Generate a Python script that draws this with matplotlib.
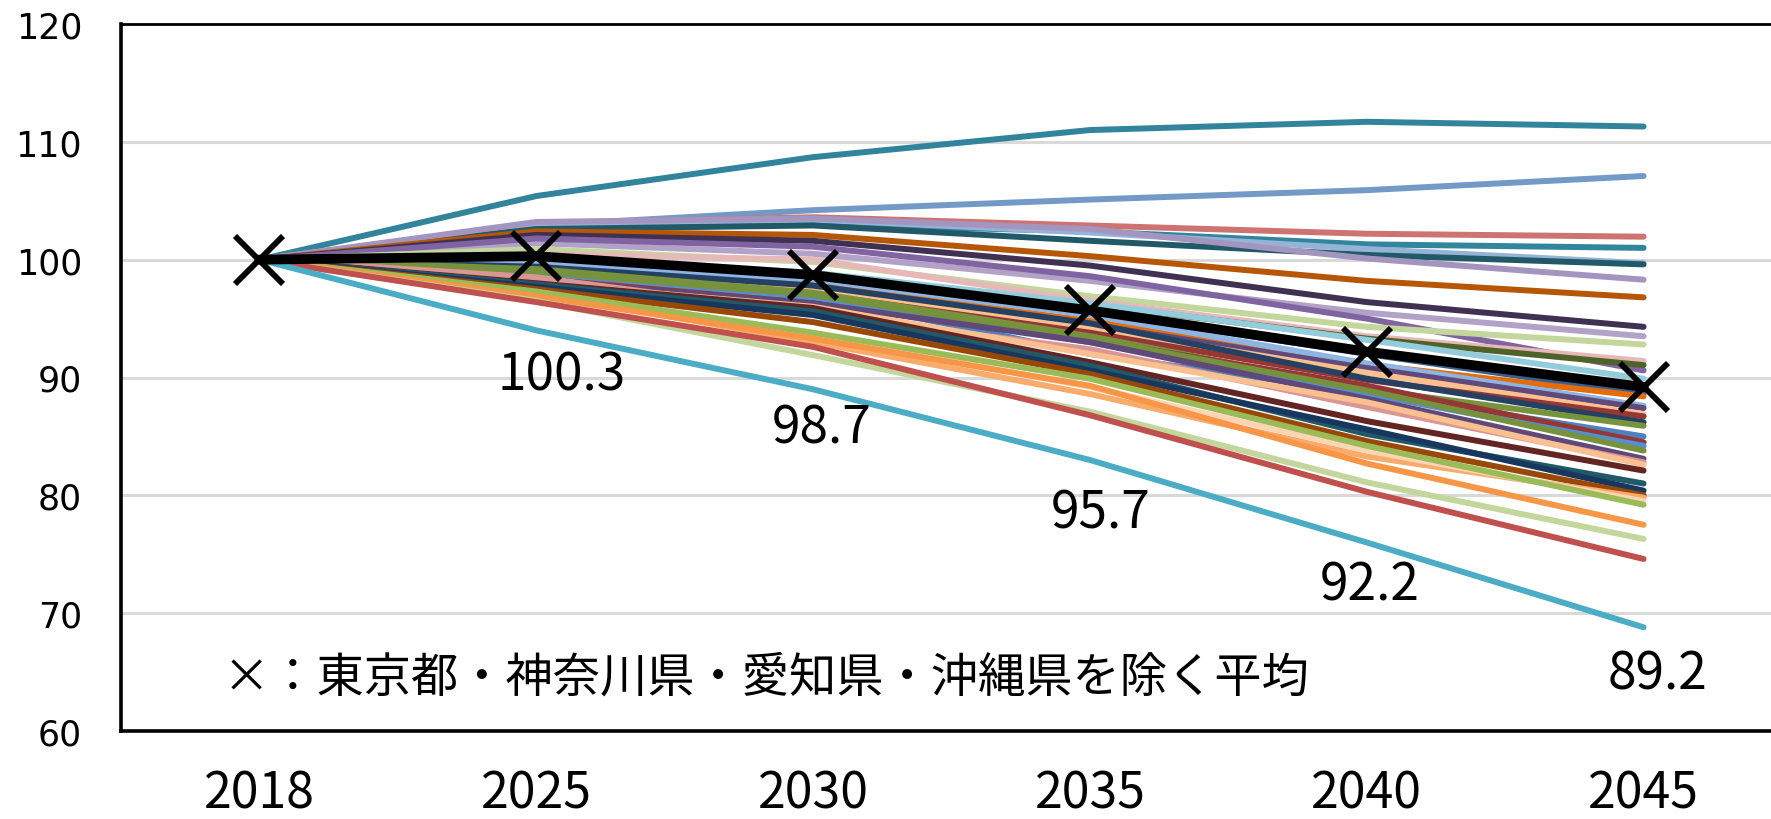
import numpy as np
import matplotlib
matplotlib.use("Agg")
import matplotlib.pyplot as plt

# Index (2018 = 100) by prefecture
years = ["2018", "2025", "2030", "2035", "2040", "2045"]
avg = [100, 100.3, 98.7, 95.7, 92.2, 89.2]

# values for 2025, 2030, 2035, 2040, 2045 (2018 is always 100)
pref_values = [
    [105.4, 108.7, 111.0, 111.7, 111.3],
    [102.9, 104.2, 105.1, 105.9, 107.1],
    [103.1, 103.6, 102.9, 102.2, 101.95],
    [102.7, 103.0, 102.4, 101.3, 101.0],
    [103.0, 103.4, 102.3, 100.9, 99.7],
    [102.6, 102.9, 101.6, 100.4, 99.6],
    [103.2, 103.5, 102.6, 100.1, 98.3],
    [102.4, 102.1, 100.3, 98.2, 96.8],
    [102.1, 101.6, 99.5, 96.4, 94.3],
    [101.4, 100.5, 98.2, 95.5, 93.5],
    [101.8, 101.1, 98.6, 95.0, 90.6],
    [100.9, 99.8, 96.9, 94.3, 92.8],
    [100.5, 100.0, 96.5, 93.5, 91.4],
    [99.8, 98.6, 96.2, 93.3, 91.05],
    [100.1, 98.9, 96.3, 93.2, 89.9],
    [99.9, 98.6, 95.6, 92.0, 88.6],
    [99.3, 97.9, 94.8, 91.1, 88.4],
    [99.7, 98.3, 95.3, 91.2, 87.6],
    [99.0, 97.5, 94.5, 90.8, 87.4],
    [99.1, 97.6, 94.2, 90.4, 86.9],
    [98.8, 97.1, 93.8, 89.8, 86.7],
    [99.4, 97.8, 94.6, 89.9, 86.2],
    [99.2, 97.2, 93.5, 89.0, 85.9],
    [98.7, 96.9, 92.0, 88.7, 85.0],
    [98.6, 96.6, 93.2, 89.3, 84.5],
    [98.9, 96.8, 93.0, 88.6, 84.2],
    [99.0, 97.0, 93.3, 88.9, 83.8],
    [98.2, 96.3, 93.0, 88.2, 83.1],
    [98.5, 95.4, 92.4, 87.5, 82.8],
    [98.0, 96.0, 92.0, 87.9, 82.6],
    [98.0, 95.9, 91.3, 86.3, 82.1],
    [97.9, 95.6, 91.0, 85.2, 81.0],
    [97.7, 95.3, 90.6, 85.6, 80.4],
    [97.5, 94.7, 90.3, 84.6, 80.0],
    [97.2, 93.0, 88.6, 83.3, 79.8],
    [97.0, 93.6, 89.2, 83.8, 79.5],
    [97.3, 93.8, 89.9, 84.2, 79.2],
    [96.9, 93.3, 89.3, 82.7, 77.5],
    [96.5, 91.9, 87.1, 81.1, 76.3],
    [96.4, 92.6, 86.8, 80.3, 74.6],
    [94.0, 89.0, 83.0, 76.0, 68.8],
]
pref_colors = [
    "#31849B", "#7399C6", "#CD7371", "#31859C", "#95B3D7", "#215968",
    "#A495C0", "#B65708", "#403152", "#B3A2C7", "#8064A2", "#C3D69B",
    "#E6B9B8", "#4F6228", "#93CDDD", "#366092", "#E46C0A", "#8EB4E3",
    "#604A7B", "#FAC090", "#953735", "#254061", "#77933C", "#4F81BD",
    "#953735", "#558ED5", "#76923C", "#5F497A", "#D99694", "#FAC090",
    "#632523", "#215968", "#17375E", "#984807", "#F9AB6B", "#FCD5B5",
    "#9BBB59", "#F79646", "#C3D69B", "#C0504D", "#4BACC6",
]
note = "×：東京都・神奈川県・愛知県・沖縄県を除く平均"

# label placement below each average point (data units)
label_dx = [0.09, 0.03, 0.04, 0.01, 0.05]
label_dy = [10.1, 13.0, 17.2, 19.8, 24.3]

jp = ["Noto Sans CJK JP", "DejaVu Sans"]

fig = plt.figure(figsize=(17.71, 8.2), dpi=100)
ax = fig.add_axes([121 / 1771, 88 / 820, 1661 / 1771, 707 / 820])

x = np.arange(len(years))
for vals, c in zip(pref_values, pref_colors):
    ax.plot(x, [100] + vals, color=c, lw=4.3,
            solid_capstyle="round", solid_joinstyle="round")

ax.plot(x, avg, color="black", lw=7, marker="x", ms=34, mew=4.2, zorder=5)

for i in range(1, len(years)):
    ax.text(x[i] + label_dx[i - 1], avg[i] - label_dy[i - 1], f"{avg[i]:.1f}",
            ha="center", va="center", fontsize=37, family=jp)

ax.text(0.061, 0.076, note, transform=ax.transAxes, ha="left", va="center",
        fontsize=34, family=jp)

ax.set_xlim(-0.5, 5.5)
ax.set_ylim(60, 120)
ax.set_xticks(x)
ax.set_xticklabels(years, family=jp, fontsize=36)
ax.set_yticks(range(60, 121, 10))
ax.tick_params(axis="y", length=0, pad=28, labelsize=25)
ax.tick_params(axis="x", length=0, pad=26)
ax.grid(axis="y", color="#D9D9D9", lw=2.2)
ax.set_axisbelow(True)
for s in ["left", "bottom"]:
    ax.spines[s].set_linewidth(2.6)
ax.spines["top"].set_linewidth(2.0)
ax.spines["right"].set_visible(False)

fig.savefig("out.png", dpi=100)
